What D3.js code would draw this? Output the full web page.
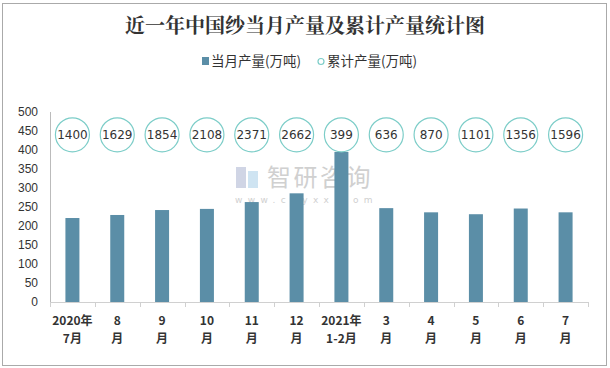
<!DOCTYPE html>
<html><head><meta charset="utf-8">
<script src="https://cdn.jsdelivr.net/npm/d3@7"></script>
<style>body{margin:0;background:#fff;} svg{display:block;}</style>
</head><body>
<svg id="c" width="610" height="368"></svg>
<script>
const catLine1 = ["2020年","8","9","10","11","12","2021年","3","4","5","6","7"];
const catLine2 = ["7月","月","月","月","月","月","1-2月","月","月","月","月","月"];
const monthly = [221, 229, 242, 245, 263, 286, 395, 247, 236, 231, 246, 236];
const cumulative = [1400, 1629, 1854, 2108, 2371, 2662, 399, 636, 870, 1101, 1356, 1596];
const yTicks = [0,50,100,150,200,250,300,350,400,450,500];
const circleLevel = 440;

const svg = d3.select("#c");
const font = "'Noto Sans CJK SC','Microsoft YaHei',sans-serif";
svg.append("rect").attr("x",2.5).attr("y",3.5).attr("width",604).attr("height",362)
  .attr("fill","#fff").attr("stroke","#aaa");

svg.append("text").attr("x",305).attr("y",33).attr("text-anchor","middle")
  .attr("font-family","'Noto Serif CJK SC','Noto Sans CJK SC',serif").attr("font-weight","bold")
  .attr("font-size",20).attr("fill","#333").text("近一年中国纱当月产量及累计产量统计图");

// legend
const lg = svg.append("g").attr("font-family",font).attr("font-size",13.5).attr("fill","#333");
lg.append("rect").attr("x",202).attr("y",57).attr("width",7).attr("height",8).attr("fill","#5b8ea7");
lg.append("text").attr("x",211).attr("y",66).attr("fill","#333").text("当月产量(万吨)");
lg.append("circle").attr("cx",321).attr("cy",61.5).attr("r",3).attr("fill","none").attr("stroke","#7ccdc8").attr("stroke-width",1.2);
lg.append("text").attr("x",327).attr("y",66).attr("fill","#333").text("累计产量(万吨)");

const x = d3.scaleBand().domain(d3.range(12)).range([50,588]).paddingInner(0).paddingOuter(0);
const y = d3.scaleLinear().domain([0,500]).range([302,112]);

// watermark
const wm = svg.append("g").attr("opacity",0.55);
wm.append("rect").attr("x",236).attr("y",167).attr("width",10).attr("height",21).attr("fill","#aab4d0");
wm.append("rect").attr("x",248).attr("y",171).attr("width",10).attr("height",17).attr("fill","#a9cfe8");
wm.append("text").attr("x",267).attr("y",186).attr("font-family",font).attr("font-size",24)
  .attr("fill","#aaa").attr("letter-spacing",2.5).text("智研咨询");
wm.append("text").attr("x",235).attr("y",203).attr("font-family","'DejaVu Sans',sans-serif").attr("font-size",9)
  .attr("fill","#aaa").attr("letter-spacing",5.4).text("www.chyxx.com");

// y axis labels
const ya = svg.append("g").attr("font-family","'Liberation Sans',Arial,sans-serif").attr("font-size",12).attr("fill","#333");
ya.selectAll("text").data(yTicks).join("text")
  .attr("x",38).attr("y",d=>y(d)+4).attr("text-anchor","end").attr("fill","#333").text(d=>d);
svg.append("line").attr("x1",50.5).attr("x2",50.5).attr("y1",112).attr("y2",302).attr("stroke","#bbb");

// bars
svg.append("g").selectAll("rect").data(monthly).join("rect")
  .attr("x",(d,i)=>x(i)+x.bandwidth()/2-7).attr("width",14)
  .attr("y",d=>y(d)).attr("height",d=>y(0)-y(d)).attr("fill","#5b8ea7");

// x axis
svg.append("line").attr("x1",50).attr("x2",588).attr("y1",302.5).attr("y2",302.5).attr("stroke","#d0d0d0");
svg.append("g").selectAll("line").data(d3.range(13)).join("line")
  .attr("x1",i=>Math.round(i<12?x(i):588)+0.5).attr("x2",i=>Math.round(i<12?x(i):588)+0.5)
  .attr("y1",302).attr("y2",307).attr("stroke","#d0d0d0");

const xl = svg.append("g").attr("font-family",font).attr("font-weight","bold").attr("font-size",12).attr("fill","#333").attr("text-anchor","middle");
xl.selectAll("text.l1").data(catLine1).join("text").attr("class","l1")
  .attr("x",(d,i)=>x(i)+x.bandwidth()/2).attr("y",325).text(d=>d);
xl.selectAll("text.l2").data(catLine2).join("text").attr("class","l2")
  .attr("x",(d,i)=>x(i)+x.bandwidth()/2).attr("y",343).text(d=>d);

// cumulative circles
const cg = svg.append("g");
cg.selectAll("circle").data(cumulative).join("circle")
  .attr("cx",(d,i)=>x(i)+x.bandwidth()/2).attr("cy",y(circleLevel)).attr("r",17)
  .attr("fill","#fff").attr("stroke","#7ccdc8").attr("stroke-width",1.2);
cg.selectAll("text").data(cumulative).join("text")
  .attr("x",(d,i)=>x(i)+x.bandwidth()/2).attr("y",y(circleLevel)+4.5)
  .attr("text-anchor","middle").attr("font-family","'DejaVu Sans',Verdana,sans-serif")
  .attr("font-size",12).attr("fill","#333").text(d=>d);
</script>
</body></html>
